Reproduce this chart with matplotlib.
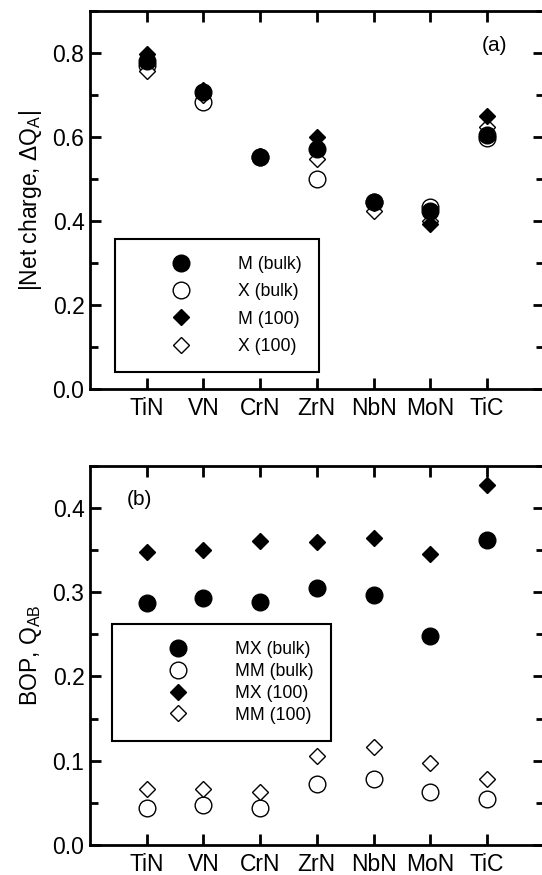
import matplotlib.pyplot as plt
from matplotlib.ticker import MultipleLocator

plt.rcParams['font.family'] = ['Liberation Sans', 'DejaVu Sans']
plt.rcParams['mathtext.default'] = 'regular'

compuestos = ['TiN', 'VN', 'CrN', 'ZrN', 'NbN', 'MoN', 'TiC']
pos = [1, 2, 3, 4, 5, 6, 7]

# (a) carga neta
M_bulk = [0.781, 0.708, 0.553, 0.571, 0.446, 0.425, 0.605]
X_bulk = [0.771, 0.684, 0.553, 0.499, 0.445, 0.433, 0.597]
M_100 = [0.797, 0.712, 0.555, 0.599, 0.442, 0.393, 0.651]
X_100 = [0.757, 0.700, 0.553, 0.548, 0.424, 0.400, 0.624]

# (b) BOP
MX_bulk = [0.287, 0.293, 0.288, 0.305, 0.296, 0.248, 0.362]
MM_bulk = [0.044, 0.048, 0.044, 0.072, 0.078, 0.063, 0.054]
MX_100 = [0.347, 0.350, 0.361, 0.359, 0.364, 0.345, 0.427]
MM_100 = [0.066, 0.067, 0.063, 0.105, 0.116, 0.097, 0.078]

fig = plt.figure(figsize=(5.42, 8.75), dpi=100)
ax1 = fig.add_axes([0.166, 0.5554, 0.837, 0.432])
ax2 = fig.add_axes([0.166, 0.0343, 0.837, 0.4335])


def dibujar(ax, series, etiquetas, ymax, paso, menor, ancla, espacio):
    estilos = [('o', 12, 'black'), ('o', 12, 'white'), ('D', 8, 'black'), ('D', 8, 'white')]
    for s, lab, (m, ms, fc) in zip(series, etiquetas, estilos):
        ax.plot(pos, s, linestyle='none', marker=m, markersize=ms,
                markerfacecolor=fc, markeredgecolor='black', markeredgewidth=1,
                label=lab, zorder=3 if fc == 'black' else 2)
    ax.set_xlim(0, 8)
    ax.set_ylim(0, ymax)
    ax.set_xticks(pos)
    ax.set_xticklabels(compuestos)
    ax.yaxis.set_major_locator(MultipleLocator(paso))
    ax.yaxis.set_minor_locator(MultipleLocator(menor))
    ax.yaxis.set_major_formatter(plt.FormatStrFormatter('%.1f'))
    ax.tick_params(axis='both', which='major', direction='in', length=8, width=2,
                   labelsize=16.5, top=True, right=True)
    ax.tick_params(axis='y', which='minor', direction='in', length=5.5, width=2,
                   right=True, left=True)
    ax.tick_params(axis='x', pad=5.5)
    ax.tick_params(axis='y', pad=4)
    for sp in ax.spines.values():
        sp.set_linewidth(2)
    leg = ax.legend(loc='upper left', bbox_to_anchor=ancla, borderaxespad=0,
                    fontsize=12.7, frameon=True, fancybox=False, framealpha=1,
                    edgecolor='black', borderpad=0.97, handlelength=5.57, handletextpad=0.44,
                    labelspacing=espacio, numpoints=1)
    leg.get_frame().set_linewidth(1.5)


dibujar(ax1, [M_bulk, X_bulk, M_100, X_100],
        ['M (bulk)', 'X (bulk)', 'M (100)', 'X (100)'], 0.9, 0.2, 0.1,
        (0.0551, 0.3968), 0.58)
dibujar(ax2, [MX_bulk, MM_bulk, MX_100, MM_100],
        ['MX (bulk)', 'MM (bulk)', 'MX (100)', 'MM (100)'], 0.45, 0.1, 0.05,
        (0.0478, 0.5819), 0.27)

ax1.set_ylabel('|Net charge, ΔQ$_{A}$|', fontsize=16.5, labelpad=6)
ax2.set_ylabel('BOP, Q$_{AB}$', fontsize=16.5, labelpad=6)

ax1.text(0.891, 0.91, '(a)', transform=ax1.transAxes, fontsize=15, ha='center', va='center')
ax2.text(0.110, 0.911, '(b)', transform=ax2.transAxes, fontsize=15, ha='center', va='center')

plt.savefig('out.png', dpi=100)
